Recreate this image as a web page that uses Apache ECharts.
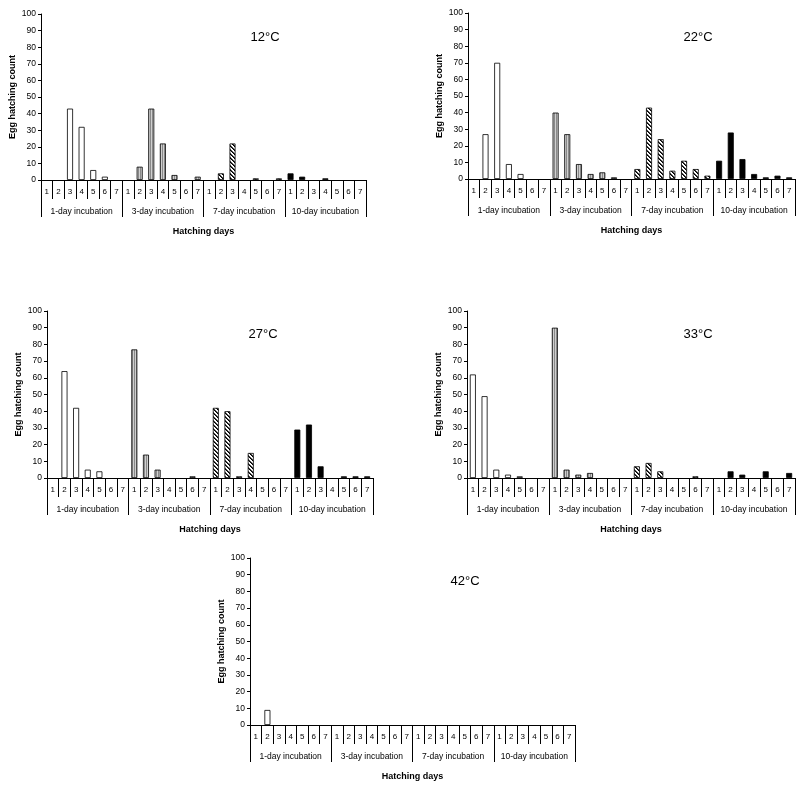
<!DOCTYPE html>
<html>
<head>
<meta charset="utf-8">
<script src="https://cdn.jsdelivr.net/npm/echarts@6/dist/echarts.min.js"></script>
<style>html,body{margin:0;padding:0;background:#fff;}#c{width:800px;height:791px;}</style>
</head>
<body>
<div id="c"></div>
<script>
// ---- data ----
const days = ['1','2','3','4','5','6','7'];
const groups = ['1-day incubation','3-day incubation','7-day incubation','10-day incubation'];
const yTicks = [0,10,20,30,40,50,60,70,80,90,100];
const temps = ['12°C','22°C','27°C','33°C','42°C'];

const t12_inc1 = [0,0,43,32,6,2,0];
const t12_inc3 = [0,8,43,22,3,0,2];
const t12_inc7 = [0,4,22,0,1,0,1];
const t12_inc10 = [4,2,0,1,0,0,0];

const t22_inc1 = [0,27,70,9,3,0,0];
const t22_inc3 = [40,27,9,3,4,1,0];
const t22_inc7 = [6,43,24,5,11,6,2];
const t22_inc10 = [11,28,12,3,1,2,1];

const t27_inc1 = [0,64,42,5,4,0,0];
const t27_inc3 = [77,14,5,0,0,1,0];
const t27_inc7 = [42,40,1,15,0,0,0];
const t27_inc10 = [29,32,7,0,1,1,1];

const t33_inc1 = [62,49,5,2,1,0,0];
const t33_inc3 = [90,5,2,3,0,0,0];
const t33_inc7 = [7,9,4,0,0,1,0];
const t33_inc10 = [0,4,2,0,4,0,3];

const t42_inc1 = [0,9,0,0,0,0,0];
const t42_inc3 = [0,0,0,0,0,0,0];
const t42_inc7 = [0,0,0,0,0,0,0];
const t42_inc10 = [0,0,0,0,0,0,0];

const panelData = [
  [t12_inc1,t12_inc3,t12_inc7,t12_inc10],
  [t22_inc1,t22_inc3,t22_inc7,t22_inc10],
  [t27_inc1,t27_inc3,t27_inc7,t27_inc10],
  [t33_inc1,t33_inc3,t33_inc7,t33_inc10],
  [t42_inc1,t42_inc3,t42_inc7,t42_inc10]
];

// ---- layout ----
const grids = [
  {left:41, top:14, width:325, height:166},
  {left:468, top:13, width:327, height:166},
  {left:47, top:311, width:326, height:167},
  {left:467, top:311, width:328, height:167},
  {left:250, top:558, width:325, height:167}
];
const titlePos = [[265,37],[698,37],[263,334],[698,334],[465,581]];

// ---- patterns ----
function stripePattern(){
  const c = document.createElement('canvas'); c.width=2; c.height=2;
  const x = c.getContext('2d');
  x.fillStyle='#cfcfcf'; x.fillRect(0,0,2,2);
  x.fillStyle='#8a8a8a'; x.fillRect(0,0,1,2);
  return c;
}
function hatchPattern(){
  const c = document.createElement('canvas'); c.width=4; c.height=4;
  const x = c.getContext('2d');
  x.fillStyle='#ffffff'; x.fillRect(0,0,4,4);
  x.fillStyle='#000000';
  for(let i=0;i<4;i++){ x.fillRect(i,i,1,1); }
  x.fillStyle='#444444';
  for(let i=0;i<4;i++){ x.fillRect((i+1)%4,i,1,1); }
  return c;
}
const fills = [
  '#ffffff',
  {image: stripePattern(), repeat:'repeat'},
  {image: hatchPattern(), repeat:'repeat'},
  '#000000'
];

const font = 'Liberation Sans';
const allDays = [];
groups.forEach(()=>days.forEach(d=>allDays.push(d)));

const option = {
  animation:false,
  backgroundColor:'#fff',
  grid: grids.map(g=>Object.assign({containLabel:false}, g)),
  xAxis: [], yAxis: [], series: [],
  graphic: []
};

grids.forEach((g,gi)=>{
  option.xAxis.push({
    type:'category', gridIndex:gi, data:allDays, position:'bottom',
    boundaryGap:true,
    axisLine:{show:true, lineStyle:{color:'#000', width:1}},
    axisTick:{show:true, interval:0, length:19, alignWithLabel:false, lineStyle:{color:'#000', width:1}},
    axisLabel:{interval:0, fontSize:8, color:'#000', margin:8, fontFamily:font},
    splitLine:{show:false}
  });
  option.xAxis.push({
    type:'category', gridIndex:gi, data:groups, position:'bottom',
    boundaryGap:true,
    axisLine:{show:false},
    axisTick:{show:true, interval:0, length:37, alignWithLabel:false, lineStyle:{color:'#000', width:1}},
    axisLabel:{interval:0, fontSize:8.5, color:'#000', margin:27, fontFamily:font},
    name:'Hatching days', nameLocation:'middle', nameGap:47,
    nameTextStyle:{fontSize:9, fontWeight:'bold', color:'#000', fontFamily:font},
    splitLine:{show:false}
  });
  option.yAxis.push({
    type:'value', gridIndex:gi, min:yTicks[0], max:yTicks[yTicks.length-1], interval:10,
    axisLine:{show:true, lineStyle:{color:'#000', width:1}},
    axisTick:{show:true, length:3, lineStyle:{color:'#000'}},
    axisLabel:{fontSize:8.5, color:'#000', margin:5, fontFamily:font},
    splitLine:{show:false},
    name:'Egg hatching count', nameLocation:'middle', nameGap:24,
    nameTextStyle:{fontSize:9, fontWeight:'bold', color:'#000', fontFamily:font}
  });
  panelData[gi].forEach((arr,k)=>{
    const data = new Array(28).fill(null);
    arr.forEach((v,d)=>{ data[k*7+d] = v===0 ? null : v; });
    option.series.push({
      type:'bar', xAxisIndex:gi*2, yAxisIndex:gi, data:data,
      barWidth:6, barGap:'-100%',
      itemStyle:{color:fills[k], borderColor:'#000', borderWidth:0.8},
      silent:true
    });
  });
  option.graphic.push({
    type:'text', x:titlePos[gi][0], y:titlePos[gi][1],
    style:{text:temps[gi], align:'center', verticalAlign:'middle', font:'13px "Liberation Sans"', fill:'#000'}
  });
});

const chart = echarts.init(document.getElementById('c'), null, {renderer:'canvas'});
chart.setOption(option);
</script>
</body>
</html>
